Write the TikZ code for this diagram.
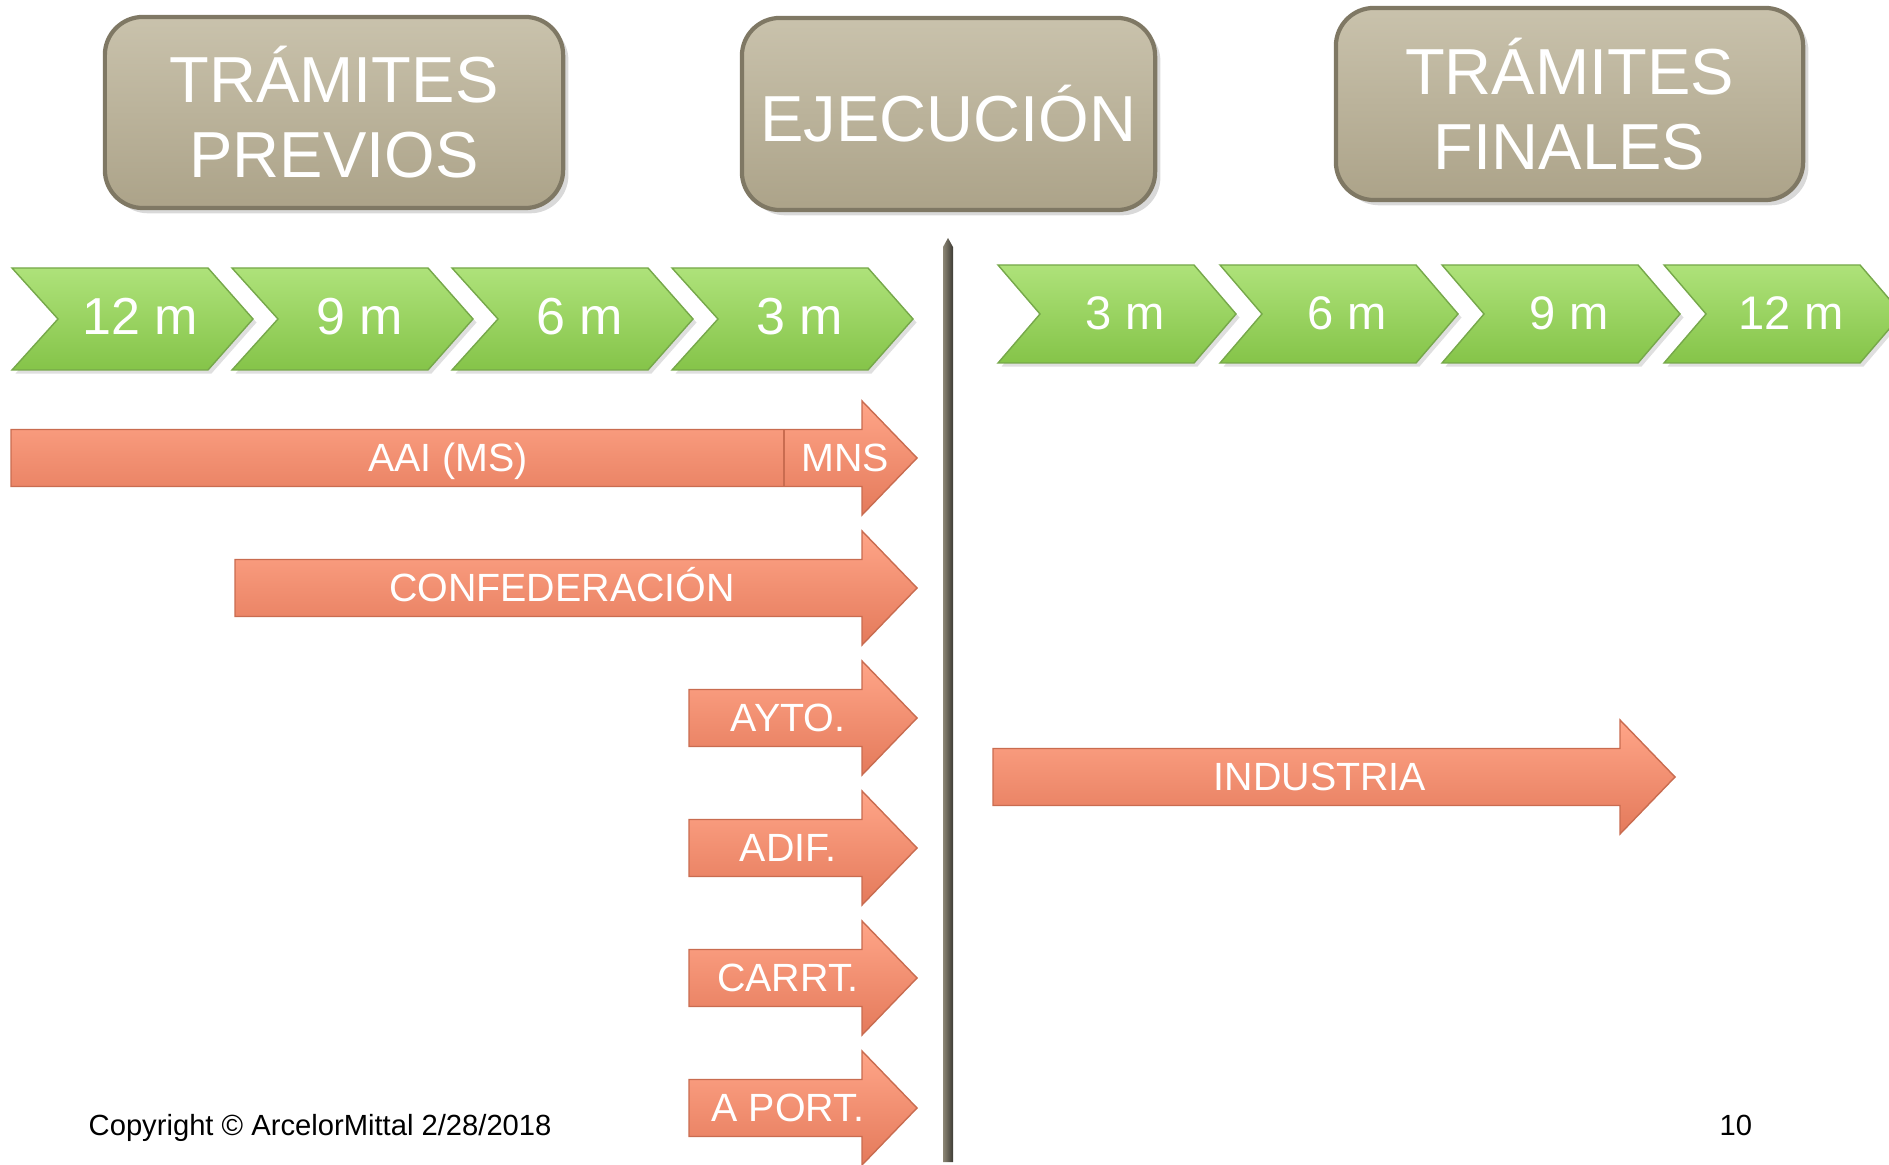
\documentclass[tikz,border=0pt]{standalone}
\usepackage{fontspec}
\setmainfont{Liberation Sans}
\usetikzlibrary{shadows}
\definecolor{BoxTop}{HTML}{C9C2AC}
\definecolor{BoxBot}{HTML}{ACA389}
\definecolor{BoxEdge}{HTML}{7F7864}
\definecolor{ChevTop}{HTML}{AEE27A}
\definecolor{ChevMid}{HTML}{9ADA5A}
\definecolor{ChevBot}{HTML}{85C449}
\definecolor{ChevEdge}{HTML}{76A84A}
\definecolor{ArrTop}{HTML}{FFA588}
\definecolor{ArrMid}{HTML}{FF8D6B}
\definecolor{ArrBot}{HTML}{E47A5B}
\definecolor{ArrEdge}{HTML}{C96C50}
\definecolor{BarLight}{HTML}{8C8675}
\definecolor{BarDark}{HTML}{3E3C35}

\begin{document}
\begin{tikzpicture}[x=0.01cm, y=-0.01cm,
    phase/.style={draw=BoxEdge, line width=1.2pt, rounded corners=0.38cm, top color=BoxTop, bottom color=BoxBot,
        drop shadow={opacity=0.3, shadow xshift=1.5pt, shadow yshift=-1.5pt},
        inner sep=0pt, text=white, align=center, font=\fontsize{18.5}{21.3}\selectfont},
    chev/.style={top color=ChevTop, middle color=ChevMid, bottom color=ChevBot, draw=ChevEdge, line width=0.4pt,
        drop shadow={opacity=0.25, shadow xshift=1pt, shadow yshift=-1pt}},
    arr/.style={top color=ArrTop, middle color=ArrMid, bottom color=ArrBot, draw=ArrEdge, line width=0.4pt},
    lbl/.style={text=white, inner sep=0pt, text height=0.716em, text depth=0pt},
    foot/.style={anchor=base west, inner sep=0pt, font=\fontsize{8.3}{10}\selectfont}]
    \useasboundingbox (0,0) rectangle (1889,1165);
    \clip (0,0) rectangle (1889,1165);

    % phases
    \node[phase, minimum width=4.58cm, minimum height=1.91cm] (previos) at (334,112.5) {TRÁMITES\\PREVIOS};
    \node[phase, minimum width=4.13cm, minimum height=1.92cm] (ejecucion) at (948.5,114) {EJECUCIÓN};
    \node[phase, minimum width=4.67cm, minimum height=1.92cm] (finales) at (1569.5,104) {TRÁMITES\\FINALES};

    % months before
    \foreach \k/\t in {0/12 m, 1/9 m, 2/6 m, 3/3 m}{
        \path[chev] (12+220*\k,268) -- ++(196,0) -- ++(45,51) -- ++(-45,51) -- ++(-196,0) -- ++(46,-51) -- cycle;
        \node[lbl, font=\fontsize{14.8}{17}\selectfont] (pre\k) at (140+220*\k,322) {\t};
    }
    % months after
    \foreach \k/\t in {0/3 m, 1/6 m, 2/9 m, 3/12 m}{
        \path[chev] (998+222*\k,265) -- ++(196,0) -- ++(42,49) -- ++(-42,49) -- ++(-196,0) -- ++(42,-49) -- cycle;
        \node[lbl, font=\fontsize{13.4}{16}\selectfont] (post\k) at (1125+222*\k,317) {\t};
    }

    % divider
    \shade[left color=BarLight, right color=BarDark] (943,247) -- (948,238) -- (953,247) -- (953,1162) -- (943,1162) -- cycle;

    % permits
    \foreach \lft/\tip/\ym/\tx/\lab/\nm in {11/917/458/448/AAI (MS)/aai, 235/917/588/562/CONFEDERACIÓN/conf,
            689/917/718/788/AYTO./ayto, 689/917/848/788/ADIF./adif, 689/917/978/788/CARRT./carrt,
            689/917/1108/788/A PORT./aport, 993/1675/777/1320/INDUSTRIA/industria}{
        \path[arr] (\lft,\ym-28.5) -- (\tip-55,\ym-28.5) -- (\tip-55,\ym-57) -- (\tip,\ym)
            -- (\tip-55,\ym+57) -- (\tip-55,\ym+28.5) -- (\lft,\ym+28.5) -- cycle;
        \node[lbl, font=\fontsize{11.2}{13}\selectfont] (\nm) at (\tx,\ym+1) {\lab};
    }
    \draw[ArrEdge, line width=0.8pt] (784,430) -- (784,486);
    \node[lbl, font=\fontsize{11.2}{13}\selectfont] (mns) at (845,459) {MNS};

    \node[foot] (copy) at (88,1135) {Copyright © ArcelorMittal 2/28/2018};
    \node[foot] (page) at (1719,1135) {10};
\end{tikzpicture}
\end{document}
